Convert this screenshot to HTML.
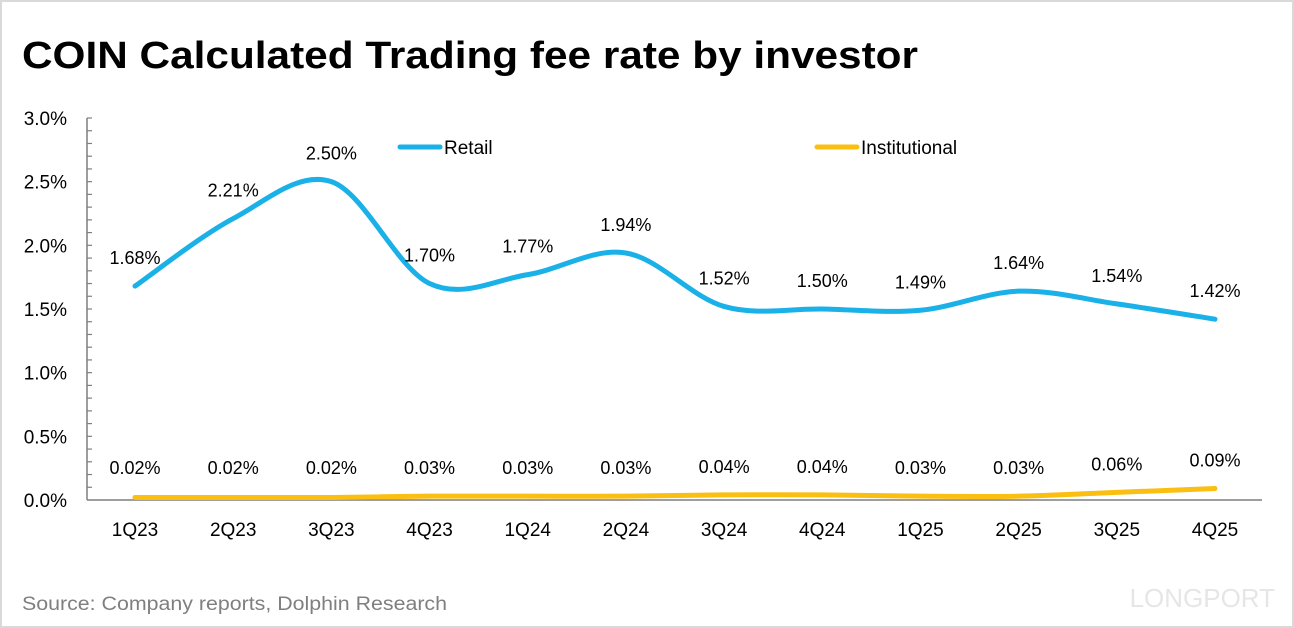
<!DOCTYPE html>
<html><head><meta charset="utf-8"><style>
body{margin:0;background:#fff;}
svg{display:block;font-family:"Liberation Sans",sans-serif;}
</style></head><body>
<svg width="1294" height="628">
<rect x="1" y="1" width="1292" height="626" fill="#fff" stroke="#d9d9d9" stroke-width="2"/>
<text x="22" y="68" font-size="38" font-weight="bold" fill="#000" textLength="896" lengthAdjust="spacingAndGlyphs">COIN Calculated Trading fee rate by investor</text>
<text x="22" y="610" font-size="19" fill="#7f7f7f" textLength="425" lengthAdjust="spacingAndGlyphs">Source: Company reports, Dolphin Research</text>
<text x="1275" y="607" font-size="26" fill="#e6e6e6" text-anchor="end">LONGPORT</text>
<g id="axes"></g>
<g id="series"></g>
<g>
<line x1="400" y1="147" x2="440" y2="147" stroke="#1ab0e8" stroke-width="5" stroke-linecap="round"/>
<text x="444" y="154" font-size="19">Retail</text>
<line x1="817" y1="147" x2="857" y2="147" stroke="#fbbf11" stroke-width="5" stroke-linecap="round"/>
<text x="861" y="154" font-size="19">Institutional</text>
</g>
</svg>
<script>
const categories=["1Q23","2Q23","3Q23","4Q23","1Q24","2Q24","3Q24","4Q24","1Q25","2Q25","3Q25","4Q25"];
const retail=[1.68,2.21,2.50,1.70,1.77,1.94,1.52,1.50,1.49,1.64,1.54,1.42];
const institutional=[0.02,0.02,0.02,0.03,0.03,0.03,0.04,0.04,0.03,0.03,0.06,0.09];
const yTicks=[0,0.5,1.0,1.5,2.0,2.5,3.0];
const NS="http://www.w3.org/2000/svg";
const x=i=>135+i*(1215-135)/11;
const y=v=>500-v*(382/3);
function mk(tag,attrs,parent){const e=document.createElementNS(NS,tag);for(const k in attrs)e.setAttribute(k,attrs[k]);parent.appendChild(e);return e;}
const axes=document.getElementById('axes'),series=document.getElementById('series');
let a=mk('line',{x1:87,y1:118,x2:87,y2:500,stroke:'#7f7f7f','stroke-width':1.5},axes);


a=mk('line',{x1:87,y1:500,x2:1262,y2:500,stroke:'#7f7f7f','stroke-width':1.5},axes);


for(let k=1;k<=30;k++){mk('line',{x1:87,x2:92,y1:y(k/10),y2:y(k/10),stroke:'#7f7f7f','stroke-width':1.2},axes);}
yTicks.forEach(v=>{const t=mk('text',{x:67,y:y(v)+7,'font-size':19,'text-anchor':'end'},axes);t.textContent=v.toFixed(1)+'%';

});
categories.forEach((c,i)=>{const t=mk('text',{x:x(i),y:536,'font-size':19,'text-anchor':'middle'},axes);t.textContent=c;

});
function smooth(vals){const p=vals.map((v,i)=>[x(i),y(v)]);let d='M'+p[0][0]+','+p[0][1];
for(let i=0;i<p.length-1;i++){const p0=p[i-1]||p[i],p1=p[i],p2=p[i+1],p3=p[i+2]||p2;const t=1/6;
d+=' C'+(p1[0]+(p2[0]-p0[0])*t)+','+(p1[1]+(p2[1]-p0[1])*t)+' '+(p2[0]-(p3[0]-p1[0])*t)+','+(p2[1]-(p3[1]-p1[1])*t)+' '+p2[0]+','+p2[1];}
return d;}
let l=mk('path',{d:smooth(retail),fill:'none',stroke:'#1ab0e8','stroke-width':5,'stroke-linecap':'round'},series);


l=mk('path',{d:smooth(institutional),fill:'none',stroke:'#fbbf11','stroke-width':5,'stroke-linecap':'round'},series);


retail.forEach((v,i)=>{const t=mk('text',{x:x(i),y:y(v)-22,'font-size':18,'text-anchor':'middle'},series);t.textContent=v.toFixed(2)+'%';

});
institutional.forEach((v,i)=>{const t=mk('text',{x:x(i),y:Math.min(y(v)-22,474),'font-size':18,'text-anchor':'middle'},series);t.textContent=v.toFixed(2)+'%';

});
</script>
</body></html>
